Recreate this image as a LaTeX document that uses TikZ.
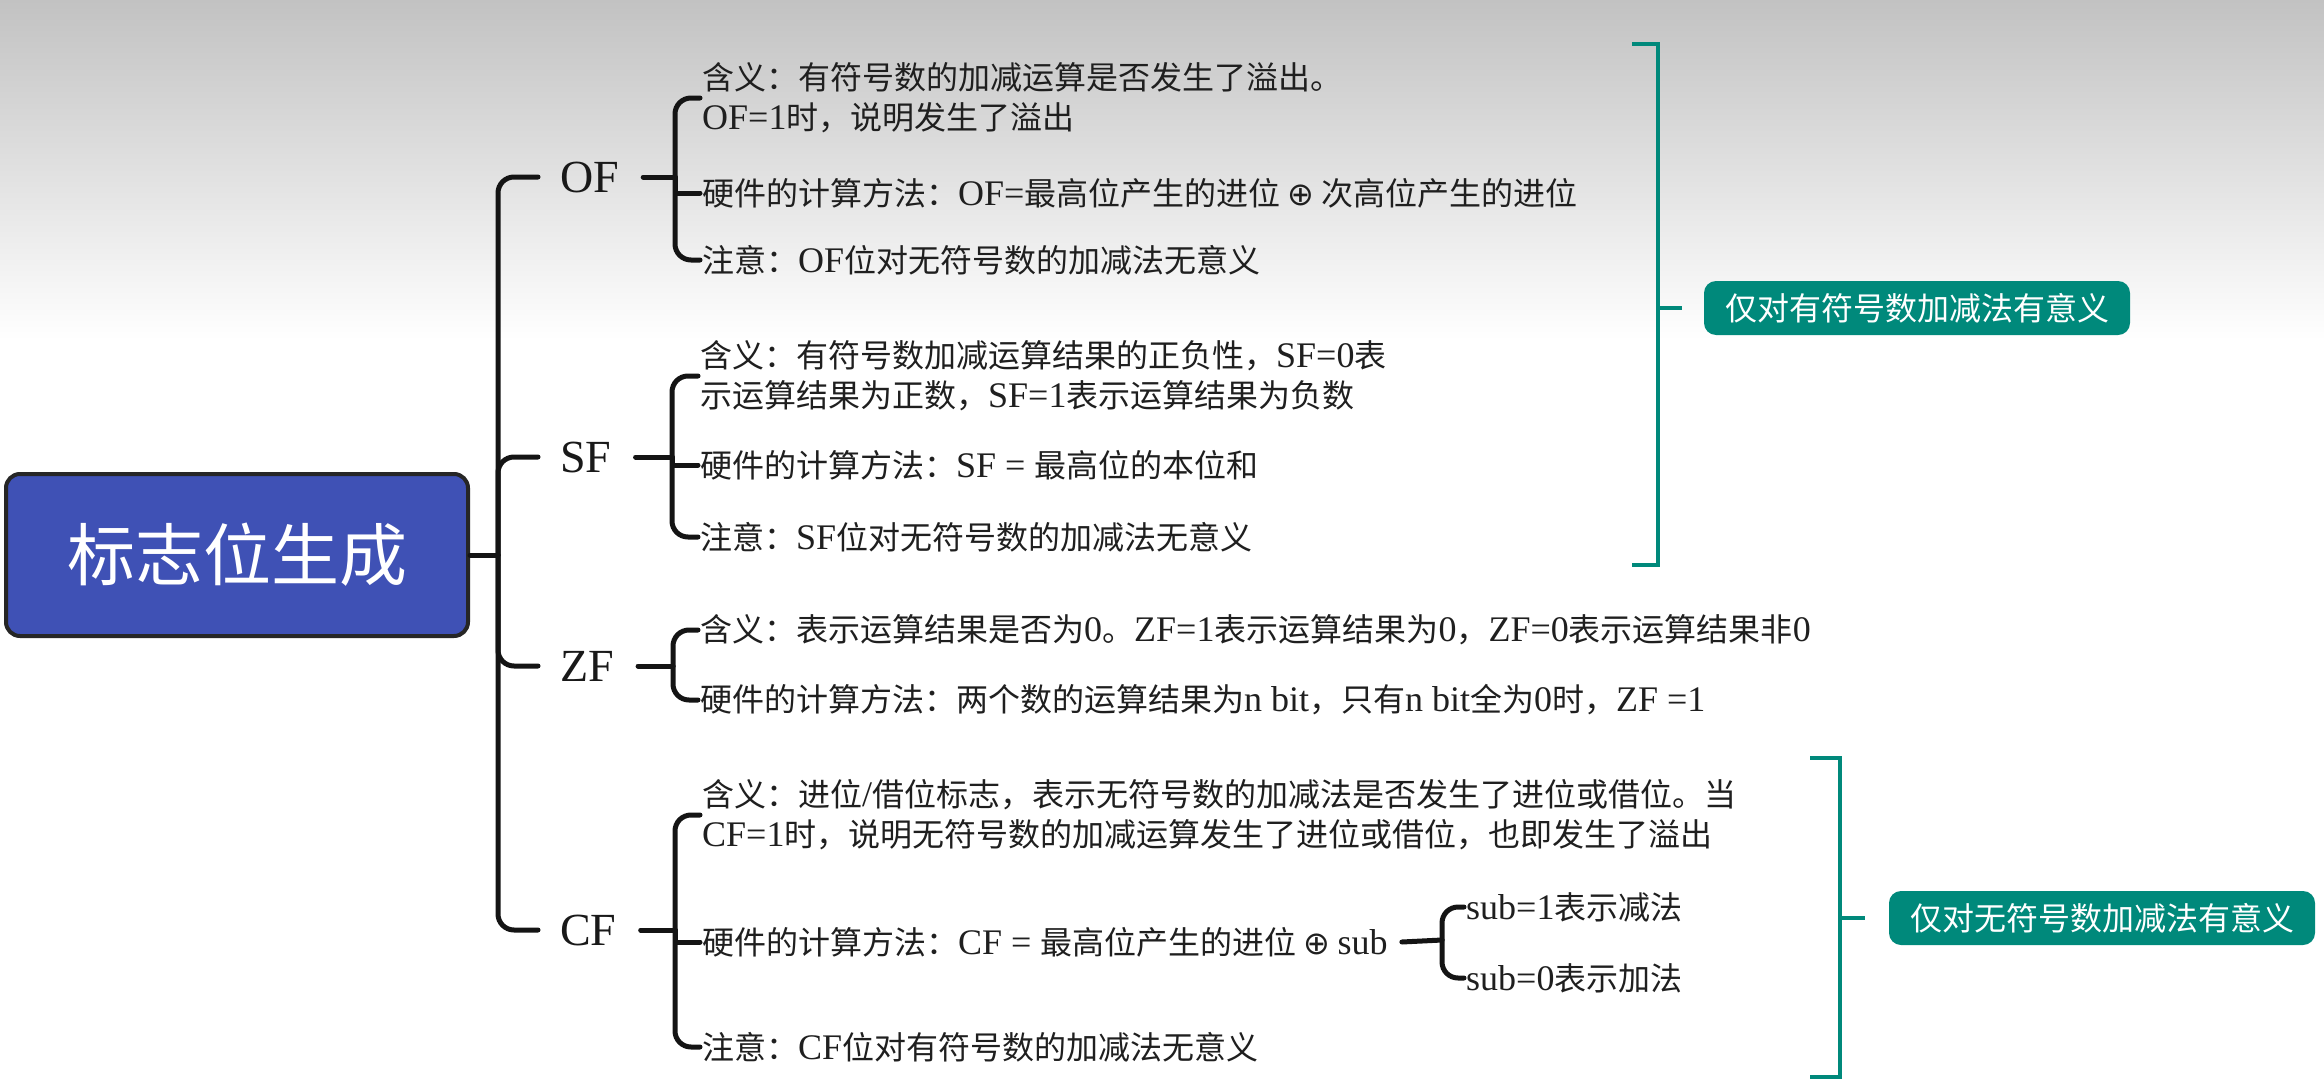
\documentclass[tikz,border=0pt]{standalone}
\usepackage{fontspec}
\setmainfont{Noto Sans CJK SC}
\newfontfamily\lt{Liberation Serif}
\newfontfamily\dv{DejaVu Sans}
\usetikzlibrary{calc}
\definecolor{teal1}{HTML}{00897B}
\definecolor{indigo1}{HTML}{3F51B5}
\definecolor{bgtop}{HTML}{C2C2C2}
\newcommand\Lt[1]{{\lt\fontsize{36}{40}\selectfont #1}}
\begin{document}
\begin{tikzpicture}[x=1pt,y=-1pt,
  br/.style={line width=5pt, line cap=round, black!92},
  brr/.style={br, rounded corners=16pt},
  lbl/.style={anchor=west, inner sep=0pt, text=black!90, font=\lt\fontsize{46}{50}\selectfont},
  txt/.style={anchor=west, inner xsep=2pt, inner ysep=0pt, align=left, text=black!88, font=\fontsize{32}{40}\selectfont},
  tl/.style={line width=4pt, teal1},
  tbox/.style={fill=teal1, rounded corners=12pt, text=white, font=\fontsize{32}{40}\selectfont, minimum width=426pt, minimum height=54pt, inner sep=0pt}
]
\useasboundingbox (0,0) rectangle (2324,1084);
\shade[top color=bgtop, bottom color=white] (0,0) rectangle (2324,340);
\fill[white] (0,339) rectangle (2324,1084);

% root
\node[fill=indigo1, draw=black!85, line width=4pt, rounded corners=14pt, minimum width=462pt, minimum height=162pt, inner sep=0pt, text=white, font=\fontsize{68}{72}\selectfont] (root) at (237,555) {标志位生成};
\coordinate (hub) at (498,555);
\draw[br] (root.east) -- (hub);

% level 1 labels
\node[lbl] (OF) at (560,177) {OF};
\node[lbl] (SF) at (560,457) {SF};
\node[lbl] (ZF) at (560,666) {ZF};
\node[lbl] (CF) at (560,930) {CF};
\foreach \n in {OF,SF,ZF,CF}{
  \draw[brr] (hub) |- ([xshift=-22pt]\n.west);
}

% hubs of brackets
\coordinate (hOF) at (675,177);
\coordinate (hSF) at (672,457);
\coordinate (hZF) at (673,666);
\coordinate (hCF) at (675,930);
\foreach \n in {OF,SF,ZF,CF}{
  \draw[br] ([xshift=24pt]\n.east) -- (h\n);
}

% OF children
\node[txt] (o1) at (700,98) {含义：有符号数的加减运算是否发生了溢出。\\\Lt{OF=1}时，说明发生了溢出};
\node[txt] (o2) at (700,193) {硬件的计算方法：\Lt{OF=}最高位产生的进位 {\dv ⊕} 次高位产生的进位};
\node[txt] (o3) at (700,260) {注意：\Lt{OF}位对无符号数的加减法无意义};
\draw[brr] (hOF) |- (o1.west);
\draw[br] (hOF) |- (o2.west);
\draw[brr] (hOF) |- (o3.west);

% SF children
\node[txt] (s1) at (698,376) {含义：有符号数加减运算结果的正负性，\Lt{SF=0}表\\示运算结果为正数，\Lt{SF=1}表示运算结果为负数};
\node[txt] (s2) at (698,465) {硬件的计算方法：\Lt{SF = }最高位的本位和};
\node[txt] (s3) at (698,537) {注意：\Lt{SF}位对无符号数的加减法无意义};
\draw[brr] (hSF) |- (s1.west);
\draw[br] (hSF) |- (s2.west);
\draw[brr] (hSF) |- (s3.west);

% ZF children
\node[txt] (z1) at (698,630) {含义：表示运算结果是否为\Lt{0}。\Lt{ZF=1}表示运算结果为\Lt{0}，\Lt{ZF=0}表示运算结果非\Lt{0}};
\node[txt] (z2) at (698,700) {硬件的计算方法：两个数的运算结果为\Lt{n bit}，只有\Lt{n bit}全为\Lt{0}时，\Lt{ZF =1}};
\draw[brr] (hZF) |- (z1.west);
\draw[brr] (hZF) |- (z2.west);

% CF children
\node[txt] (c1) at (700,815) {含义：进位\Lt{/}借位标志，表示无符号数的加减法是否发生了进位或借位。当\\\Lt{CF=1}时，说明无符号数的加减运算发生了进位或借位，也即发生了溢出};
\node[txt] (c2) at (700,942) {硬件的计算方法：\Lt{CF = }最高位产生的进位 {\dv ⊕} \Lt{sub}};
\node[txt] (c3) at (700,1047) {注意：\Lt{CF}位对有符号数的加减法无意义};
\draw[brr] (hCF) |- (c1.west);
\draw[br] (hCF) |- (c2.west);
\draw[brr] (hCF) |- (c3.west);

% sub bracket
\coordinate (hsub) at (1442,940);
\draw[br] ([xshift=12pt]c2.east) -- (hsub);
\node[txt] (b1) at (1464,907) {\Lt{sub=1}表示减法};
\node[txt] (b2) at (1464,978) {\Lt{sub=0}表示加法};
\draw[brr] (hsub) |- (b1.west);
\draw[brr] (hsub) |- (b2.west);

% teal summary 1
\node[tbox] (t1) at (1917,308) {仅对有符号数加减法有意义};
\coordinate (tt1) at (1632,44);
\coordinate (tb1) at (1632,565);
\coordinate (tm1) at (1658,308);
\draw[tl] (tt1) -| (tm1) |- (tb1);
\draw[tl] (tm1) -- ([xshift=-22pt]t1.west);

% teal summary 2
\node[tbox] (t2) at (2102,918) {仅对无符号数加减法有意义};
\coordinate (tt2) at (1810,758);
\coordinate (tb2) at (1810,1077);
\coordinate (tm2) at (1840,918);
\draw[tl] (tt2) -| (tm2) |- (tb2);
\draw[tl] (tm2) -- ([xshift=-24pt]t2.west);
\end{tikzpicture}
\end{document}
